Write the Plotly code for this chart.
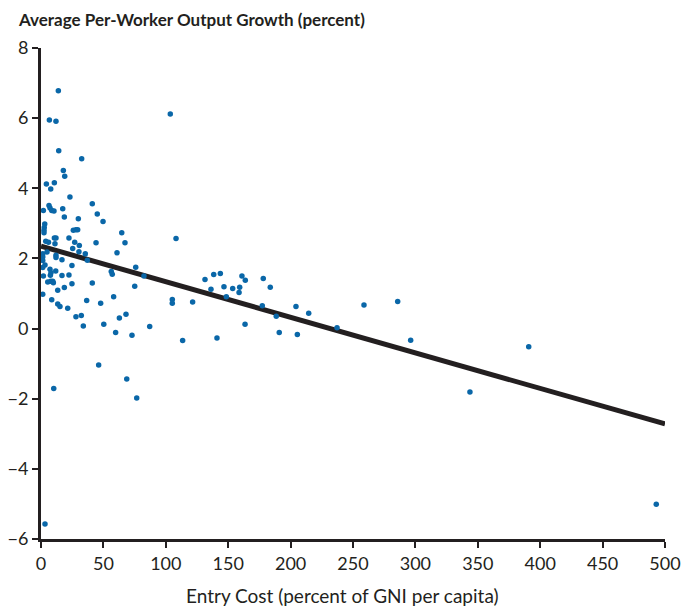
import plotly.graph_objects as go

# Entry cost (percent of GNI per capita) for each country
entry_cost = [
    6.7, 12.0, 14.2, 32.6, 17.9, 19.0, 4.3, 10.7, 7.8, 23.2, 41.1, 45.1, 49.7, 1.9,
    6.4, 7.2, 8.6, 10.4, 17.4, 18.7, 29.9,
    3.0, 2.6, 2.4, 2.4, 3.8, 6.0, 10.7, 12.0, 11.2, 22.4, 25.9, 28.0, 29.4, 27.0,
    30.7, 25.4, 30.4, 35.5, 37.1, 44.1, 64.7, 67.3, 60.9, 75.9, 82.5, 103.6, 108.2,
    105.2, 105.2, 121.5, 113.5,
    12.0, 12.0, 4.8, 16.8, 24.8, 7.2, 8.0, 7.5, 11.8, 16.8, 22.4, 24.8, 18.7, 13.4,
    5.4, 7.8, 9.4, 9.9, 1.9, 1.4, 8.6, 13.4, 15.2, 21.4, 28.0, 32.3, 33.9, 36.6,
    41.1, 47.8, 50.3, 56.3, 57.1, 58.2, 59.8, 62.8, 68.1, 72.9, 75.1, 87.1,
    46.2, 68.7, 76.7, 10.2, 3.2,
    258.8, 285.8, 296.2, 390.8, 343.7, 493.0,
    141.0, 131.4, 138.4, 143.7, 136.2, 146.6, 148.5, 153.6, 159.2, 158.7, 161.0,
    163.7, 163.5, 178.1, 183.7, 177.3, 188.5, 190.9, 204.3, 205.4, 214.5, 237.2,
    13.9,
    1.4, 1.4, 1.4, 3.2, 1.4,
]

# Average per-worker output growth (percent) for each country
output_growth = [
    5.95, 5.91, 5.07, 4.84, 4.51, 4.34, 4.12, 4.16, 3.98, 3.75, 3.56, 3.27, 3.05, 3.37,
    3.51, 3.44, 3.37, 3.35, 3.42, 3.18, 3.13,
    2.98, 2.88, 2.80, 2.73, 2.49, 2.46, 2.58, 2.58, 2.42, 2.58, 2.80, 2.82, 2.82, 2.46,
    2.37, 2.28, 2.19, 2.13, 1.95, 2.45, 2.73, 2.45, 2.16, 1.75, 1.50, 6.12, 2.57,
    0.83, 0.72, 0.76, -0.34,
    2.09, 2.03, 2.18, 1.96, 1.80, 1.69, 1.59, 1.52, 1.64, 1.51, 1.53, 1.28, 1.17, 1.09,
    1.33, 1.35, 1.35, 1.31, 1.50, 0.98, 0.82, 0.70, 0.63, 0.58, 0.34, 0.37, 0.07, 0.80,
    1.30, 0.72, 0.12, 1.63, 1.55, 0.91, -0.11, 0.30, 0.41, -0.19, 1.21, 0.06,
    -1.04, -1.44, -1.98, -1.71, -5.57,
    0.67, 0.77, -0.33, -0.52, -1.81, -5.01,
    -0.27, 1.40, 1.54, 1.57, 1.12, 1.19, 0.91, 1.14, 1.18, 1.03, 1.50,
    1.38, 0.12, 1.43, 1.18, 0.65, 0.35, -0.11, 0.63, -0.17, 0.44, 0.02,
    6.78,
    2.13, 2.04, 1.94, 1.81, 1.74,
]

# Fitted regression line endpoints
fit_x = [0, 500]
fit_y = [2.35, -2.72]

x_ticks = [0, 50, 100, 150, 200, 250, 300, 350, 400, 450, 500]
y_ticks = [-6, -4, -2, 0, 2, 4, 6, 8]
y_tick_text = ["\u22126", "\u22124", "\u22122", "0", "2", "4", "6", "8"]

INK = "#231f20"
DOT = "#0a67a8"
FONT = "Lato"

fig = go.Figure()

fig.add_trace(go.Scatter(
    x=fit_x, y=fit_y, mode="lines",
    line=dict(color=INK, width=5),
    hoverinfo="skip", showlegend=False,
))

fig.add_trace(go.Scatter(
    x=entry_cost, y=output_growth, mode="markers",
    marker=dict(color=DOT, size=5.5, line=dict(width=0)),
    cliponaxis=False, showlegend=False,
))

axis_common = dict(
    showgrid=False, zeroline=False, automargin=False,
    showline=True, linecolor=INK, linewidth=3,
    ticks="outside", ticklen=6, tickwidth=2, tickcolor=INK,
    tickfont=dict(family=FONT, size=18, color=INK),
)

fig.update_layout(
    width=683, height=607,
    margin=dict(l=41, r=18, t=48, b=68, autoexpand=False),
    paper_bgcolor="white", plot_bgcolor="white",
    font=dict(family=FONT, color=INK, size=16),
    xaxis=dict(range=[0, 500], tickvals=x_ticks,
               ticktext=[str(t) for t in x_ticks], **axis_common),
    yaxis=dict(range=[-6, 8], tickvals=y_ticks,
               ticktext=y_tick_text, **axis_common),
    annotations=[
        dict(
            text="<b>Average Per-Worker Output Growth (percent)</b>",
            xref="paper", yref="paper", x=-0.04, y=1.059,
            xanchor="left", yanchor="middle", showarrow=False,
            font=dict(family=FONT, size=17, color=INK),
        ),
        dict(
            text="Entry Cost (percent of GNI per capita)",
            xref="paper", yref="paper", x=0.483, y=-0.116,
            xanchor="center", yanchor="middle", showarrow=False,
            font=dict(family=FONT, size=19, color=INK),
        ),
    ],
)

fig.write_html("out.html")
